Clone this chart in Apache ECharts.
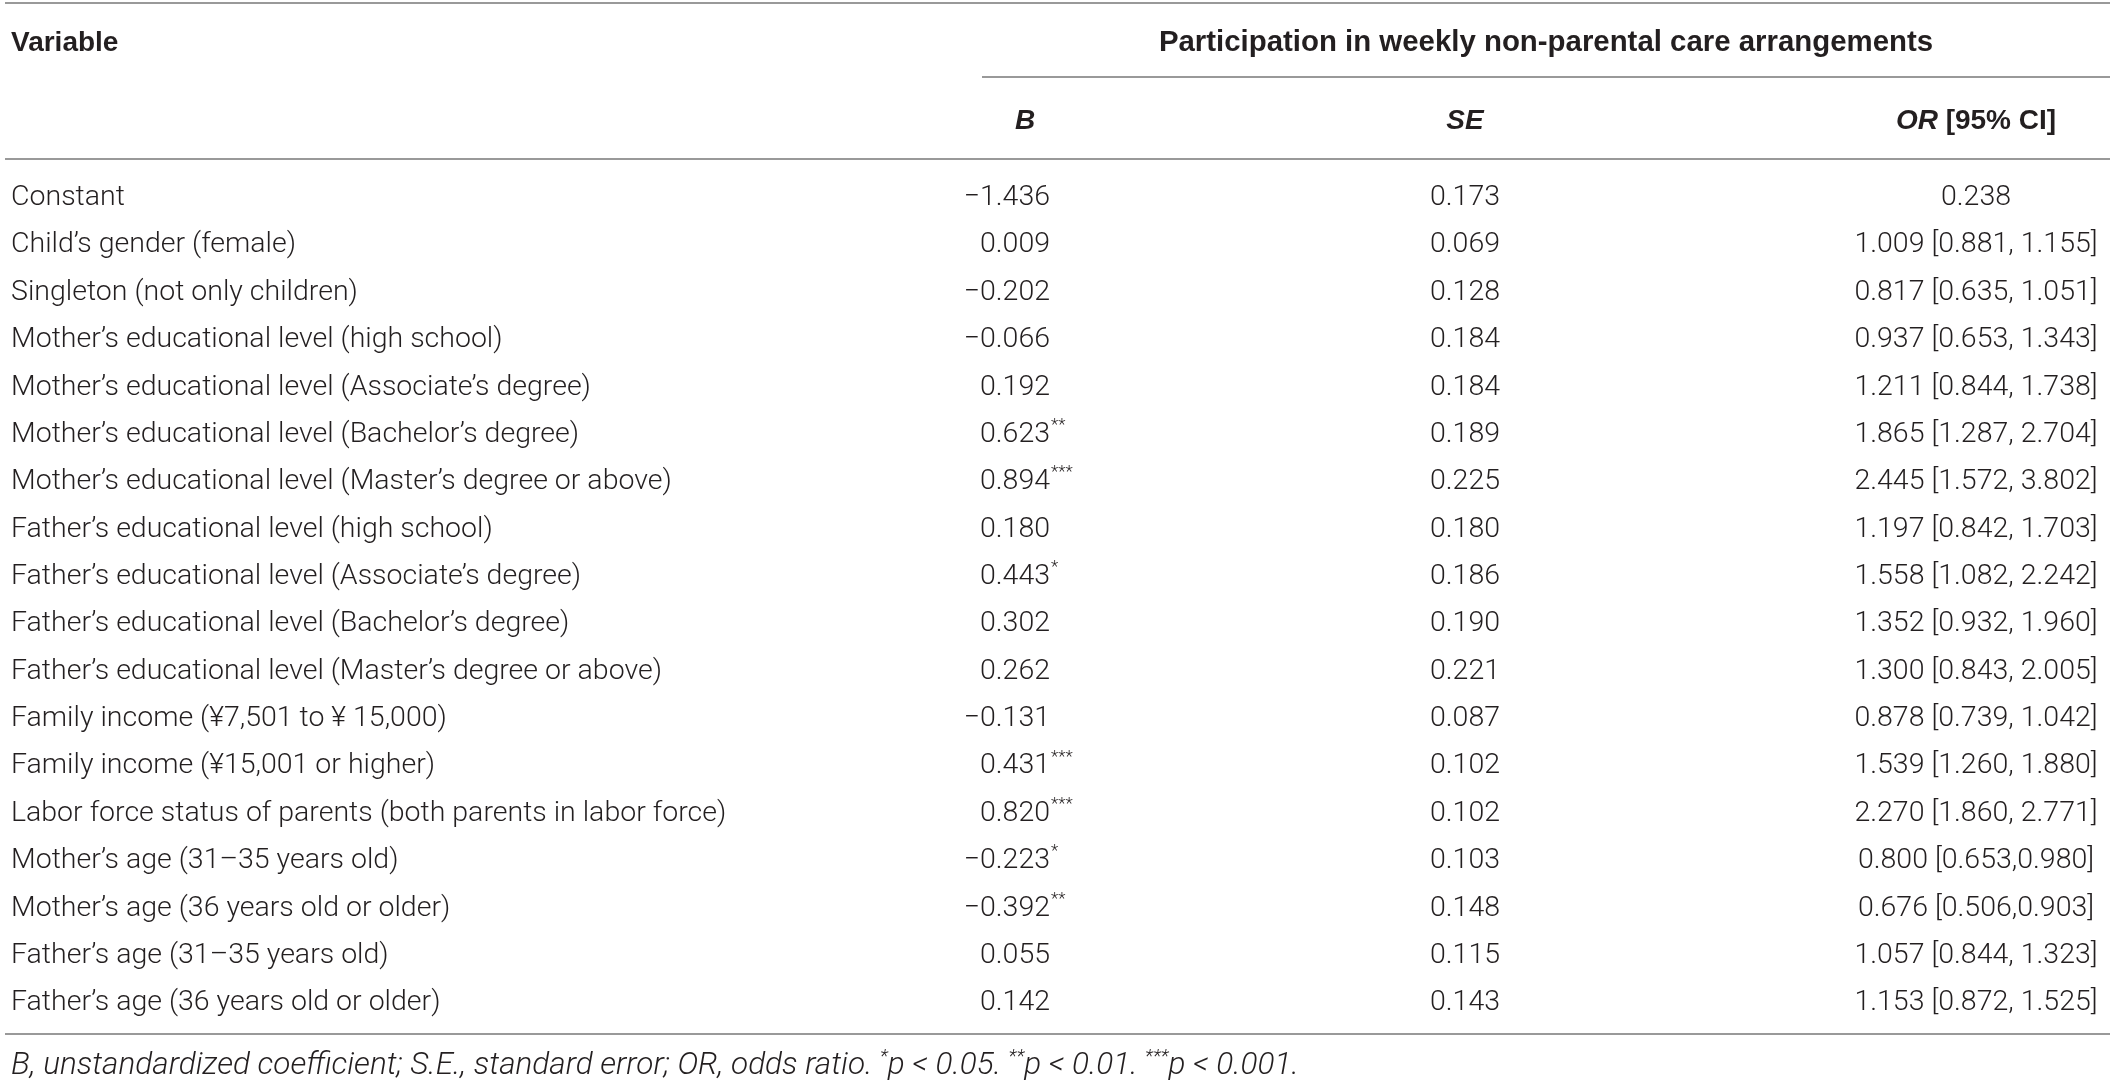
<!DOCTYPE html>
<html>
<head>
<meta charset="utf-8">
<title>Participation in weekly non-parental care arrangements</title>
<script src="https://cdn.jsdelivr.net/npm/echarts@6/dist/echarts.min.js"></script>
<style>
  html, body { margin: 0; padding: 0; background: #fff; }
  #table { width: 2118px; height: 1083px; }
</style>
</head>
<body>
<div id="table"></div>
<script>
// rows of the table
const variables = [
  'Constant',
  'Child\u2019s gender (female)',
  'Singleton (not only children)',
  'Mother\u2019s educational level (high school)',
  'Mother\u2019s educational level (Associate\u2019s degree)',
  'Mother\u2019s educational level (Bachelor\u2019s degree)',
  'Mother\u2019s educational level (Master\u2019s degree or above)',
  'Father\u2019s educational level (high school)',
  'Father\u2019s educational level (Associate\u2019s degree)',
  'Father\u2019s educational level (Bachelor\u2019s degree)',
  'Father\u2019s educational level (Master\u2019s degree or above)',
  'Family income (\u00A57,501 to \u00A5 15,000)',
  'Family income (\u00A515,001 or higher)',
  'Labor force status of parents (both parents in labor force)',
  'Mother\u2019s age (31\u201335 years old)',
  'Mother\u2019s age (36 years old or older)',
  'Father\u2019s age (31\u201335 years old)',
  'Father\u2019s age (36 years old or older)'
];
const bCoef = [-1.436, 0.009, -0.202, -0.066, 0.192, 0.623, 0.894, 0.180, 0.443, 0.302,
  0.262, -0.131, 0.431, 0.820, -0.223, -0.392, 0.055, 0.142];
const bStars = ['', '', '', '', '', '**', '***', '', '*', '', '', '', '***', '***', '*', '**', '', ''];
const stdErr = [0.173, 0.069, 0.128, 0.184, 0.184, 0.189, 0.225, 0.180, 0.186, 0.190,
  0.221, 0.087, 0.102, 0.102, 0.103, 0.148, 0.115, 0.143];
const oddsRatio = [0.238, 1.009, 0.817, 0.937, 1.211, 1.865, 2.445, 1.197, 1.558, 1.352,
  1.300, 0.878, 1.539, 2.270, 0.800, 0.676, 1.057, 1.153];
const ciLow = [null, 0.881, 0.635, 0.653, 0.844, 1.287, 1.572, 0.842, 1.082, 0.932,
  0.843, 0.739, 1.260, 1.860, 0.653, 0.506, 0.844, 0.872];
const ciHigh = [null, 1.155, 1.051, 1.343, 1.738, 2.704, 3.802, 1.703, 2.242, 1.960,
  2.005, 1.042, 1.880, 2.771, 0.980, 0.903, 1.323, 1.525];
// the source prints these two intervals without a space after the comma
const tightCi = [14, 15];

const headVariable = 'Variable';
const headGroup = 'Participation in weekly non-parental care arrangements';
const footnote = '{i|B, unstandardized coefficient; S.E., standard error; OR, odds ratio. }{s|*}{i|p < 0.05. }{s|**}{i|p < 0.01. }{s|***}{i|p < 0.001.}';

// layout
const rowH = 47.36;
const firstRow = 198;
const col = { name: 11, bRight: 1050, bHead: 1025, se: 1465, or: 1976 };
const ink = '#231f20';
const ruleColor = '#999999';
const family = 'Roboto, "Liberation Sans", sans-serif';
const headFamily = '"Liberation Sans", Arial, sans-serif';
const bodySize = 28.5;
const headSize = 28;

const fmt = v => (v < 0 ? '\u2212' : '') + Math.abs(v).toFixed(3);

const chart = echarts.init(document.getElementById('table'), null, { renderer: 'canvas' });

const gridTop = firstRow - rowH / 2;
const gridBottom = 1083 - gridTop - rowH * variables.length;

function cell(text, x, y, align, extra) {
  return {
    type: 'text',
    style: Object.assign({
      text: text, x: x, y: y, align: align, verticalAlign: 'middle',
      fontFamily: family, fontSize: bodySize, fontWeight: 300, fill: ink
    }, extra || {})
  };
}

function renderRow(params, api) {
  const i = api.value(1);
  const y = api.coord([0, i])[1];
  const kids = [
    cell(variables[i], api.coord([col.name, i])[0], y, 'left'),
    cell(fmt(bCoef[i]), api.coord([col.bRight, i])[0], y, 'right'),
    cell(stdErr[i].toFixed(3), api.coord([col.se, i])[0], y, 'center')
  ];
  if (bStars[i]) {
    kids.push(cell(bStars[i], api.coord([col.bRight, i])[0] + 1, y - 9, 'left', { fontSize: 17 }));
  }
  let orText = oddsRatio[i].toFixed(3);
  if (ciLow[i] != null) {
    const sep = tightCi.indexOf(i) >= 0 ? ',' : ', ';
    orText += ' [' + ciLow[i].toFixed(3) + sep + ciHigh[i].toFixed(3) + ']';
  }
  kids.push(cell(orText, api.coord([col.or, i])[0], y, 'center'));
  return { type: 'group', children: kids };
}

function rule(y, x1, x2) {
  return {
    type: 'line', silent: true,
    shape: { x1: x1, y1: y, x2: x2, y2: y },
    style: { stroke: ruleColor, lineWidth: 2 }
  };
}

function head(text, x, y, align, rich, size) {
  return {
    type: 'text', silent: true,
    style: {
      text: text, x: x, y: y, align: align, verticalAlign: 'middle',
      fontFamily: headFamily, fontSize: size || headSize, fontWeight: 'bold', fill: ink,
      rich: rich || {}
    }
  };
}

const italicBold = { fontFamily: headFamily, fontSize: headSize, fontWeight: 'bold', fontStyle: 'italic', fill: ink };

chart.setOption({
  backgroundColor: '#fff',
  animation: false,
  grid: { left: 0, right: 0, top: gridTop, bottom: gridBottom },
  xAxis: { type: 'value', min: 0, max: 2118, show: false },
  yAxis: { type: 'category', data: variables, inverse: true, show: false },
  series: [{
    type: 'custom',
    silent: true,
    renderItem: renderRow,
    encode: { x: 0, y: 1 },
    data: variables.map((v, i) => [0, i])
  }],
  graphic: [
    rule(3, 5, 2110),
    head(headVariable, col.name, 43, 'left'),
    head(headGroup, 1546, 43, 'center', null, 29.4),
    rule(77, 982, 2110),
    head('{i|B}', col.bHead, 121, 'center', { i: italicBold }),
    head('{i|SE}', col.se, 121, 'center', { i: italicBold }),
    head('{i|OR} [95% CI]', col.or, 121, 'center', { i: italicBold }),
    rule(159, 5, 2110),
    rule(1034, 5, 2110),
    {
      type: 'text', silent: true,
      style: {
        text: footnote, x: col.name, y: 1066, align: 'left', verticalAlign: 'middle',
        fontFamily: family, fontSize: 31.5, fill: ink,
        rich: {
          i: { fontFamily: family, fontSize: 31.5, fontWeight: 300, fontStyle: 'italic', fill: ink, lineHeight: 36 },
          s: { fontFamily: family, fontSize: 19, fontWeight: 300, fontStyle: 'italic', fill: ink, lineHeight: 36, verticalAlign: 'top' }
        }
      }
    }
  ]
});
</script>
</body>
</html>
